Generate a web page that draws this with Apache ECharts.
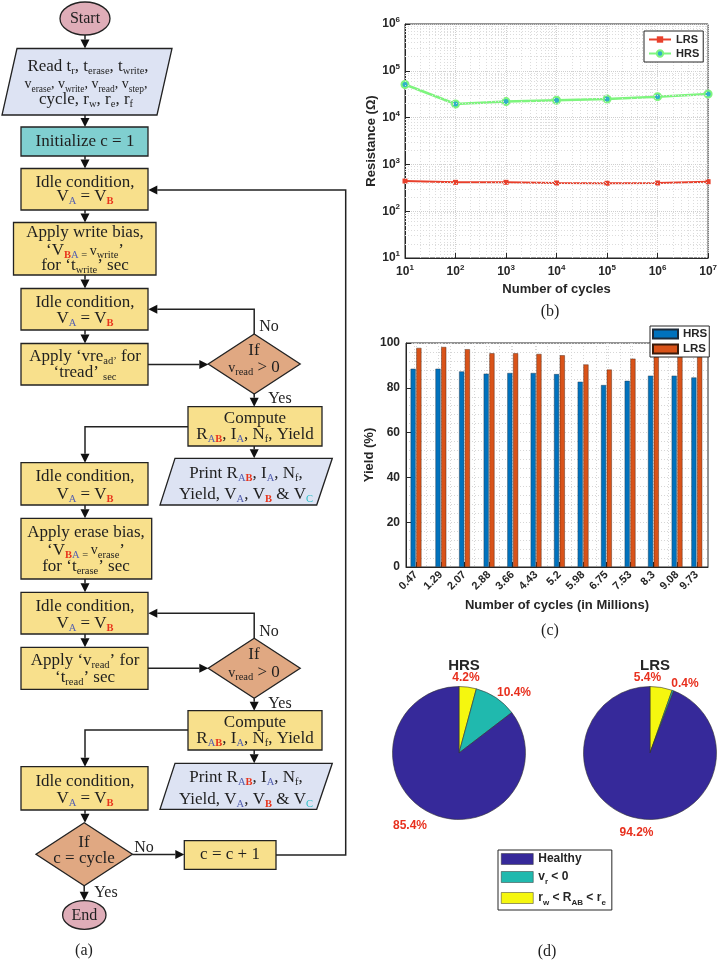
<!DOCTYPE html>
<html><head><meta charset="utf-8">
<script src="https://cdn.jsdelivr.net/npm/echarts@6/dist/echarts.min.js"></script>
<style>html,body{margin:0;padding:0;background:#fff}#c{width:720px;height:961px}</style>
</head><body><div id="c"></div>
<script>
// ---------- data ----------
const cycles = [10, 100, 1e3, 1e4, 1e5, 1e6, 1e7];
const lrsRes = [441, 414, 414, 400, 395, 400, 427];
const hrsRes = [51000, 19500, 22000, 23500, 25000, 28000, 32000];
const yieldCycles = [0.47, 1.29, 2.07, 2.88, 3.66, 4.43, 5.2, 5.98, 6.75, 7.53, 8.3, 9.08, 9.73];
const hrsYield = [88.5, 88.5, 87.3, 86.3, 86.6, 86.6, 86.1, 82.7, 81.2, 83.1, 85.4, 85.4, 84.6];
const lrsYield = [97.8, 98.2, 97.2, 95.4, 95.4, 95.1, 94.5, 90.4, 88.1, 93.0, 93.9, 94.0, 94.3];
const pieNames = ['rw<RAB<re', 'vr<0', 'Healthy'];
const hrsPie = [4.2, 10.4, 85.4];
const lrsPie = [5.4, 0.4, 94.2];

// label placement (style, not data)
const hrsLabelPos = [[466, 678], [514, 693], [410, 826]];
const lrsLabelPos = [[647.5, 678], [685, 684], [636.5, 833]];

// ---------- flowchart helpers ----------
const FF = '"Liberation Serif","Times New Roman",serif';
const SF = '"Liberation Sans",Arial,sans-serif';
const INK = '#1f1f1f';
const SUB = 10.5;
const rich = {
  n: {fontSize: 17, fontFamily: FF, fill: INK, lineHeight: 20},
  k: {fontSize: 16, fontFamily: FF, fill: INK, lineHeight: 20},
  m: {fontSize: 14, fontFamily: FF, fill: INK, lineHeight: 20},
  s: {fontSize: SUB, fontFamily: FF, fill: INK, verticalAlign: 'bottom', lineHeight: 14},
  t: {fontSize: 9.5, fontFamily: FF, fill: INK, verticalAlign: 'bottom', lineHeight: 14},
  a: {fontSize: SUB, fontFamily: FF, fill: '#5560b0', verticalAlign: 'bottom', lineHeight: 14},
  b: {fontSize: SUB, fontFamily: FF, fill: '#e8341c', fontWeight: 'bold', verticalAlign: 'bottom', lineHeight: 14},
  c: {fontSize: SUB, fontFamily: FF, fill: '#2cc0c8', verticalAlign: 'bottom', lineHeight: 14}
};
const els = [];
const SW = {stroke: '#222', lineWidth: 1.3};
function T(x, y, t) { els.push({type: 'text', x: x, y: y, z: 20, style: {text: t, rich: rich, align: 'center', verticalAlign: 'middle', font: '17px ' + FF, fill: INK}}); }
function R(x, y, w, h, fill) { els.push({type: 'rect', z: 5, shape: {x: x, y: y, width: w, height: h}, style: Object.assign({fill: fill}, SW)}); }
function P(pts, fill) { els.push({type: 'polygon', z: 5, shape: {points: pts}, style: Object.assign({fill: fill}, SW)}); }
function E(cx, cy, rx, ry, fill) { els.push({type: 'ellipse', z: 5, shape: {cx: cx, cy: cy, rx: rx, ry: ry}, style: Object.assign({fill: fill}, SW)}); }
function A(pts) {
  const p = pts.map(q => q.slice());
  const [x1, y1] = p[p.length - 2], [x2, y2] = p[p.length - 1];
  const L = Math.hypot(x2 - x1, y2 - y1), ux = (x2 - x1) / L, uy = (y2 - y1) / L;
  const h = 9, w = 4.5, bx = x2 - ux * h, by = y2 - uy * h;
  p[p.length - 1] = [bx, by];
  els.push({type: 'polyline', z: 4, shape: {points: p}, style: {stroke: '#222', lineWidth: 1.5, fill: null}});
  els.push({type: 'polygon', z: 4, shape: {points: [[x2, y2], [bx - uy * w, by + ux * w], [bx + uy * w, by - ux * w]]}, style: {fill: '#111'}});
}
const YEL = '#f8e08c', BLU = '#dde3f3', ORG = '#e0a882';
const idleTop = '{n|Idle condition,}', idleBot = '{n|V}{a|A}{n| = V}{b|B}';
function diamond(cx, cy, hw, hh) { P([[cx, cy - hh], [cx + hw, cy], [cx, cy + hh], [cx - hw, cy]], ORG); }

// Start
E(85, 18.5, 25, 16.5, '#dfadb8'); T(85, 19, '{k|Start}');
A([[85, 35], [85, 48.5]]);
P([[17, 48.5], [172, 48.5], [157, 115], [2, 115]], BLU);
T(88, 66.5, '{n|Read t}{s|r}{n|, t}{s|erase}{n|, t}{s|write}{n|,}');
T(86, 84, '{m|v}{t|erase}{m|, v}{t|write}{m|, v}{t|read}{m|, v}{t|step}{m|,}');
T(86, 99.5, '{n|cycle, r}{s|w}{n|, r}{s|e}{n|, r}{s|f}');
A([[85, 115], [85, 127]]);
R(21, 127, 127, 29, '#80cfd0'); T(85, 142, '{n|Initialize c = 1}');
A([[85, 156], [85, 168.5]]);
R(21, 168.5, 127, 41.5, YEL); T(85, 183, idleTop); T(85, 197, idleBot);
A([[85, 210], [85, 222.5]]);
R(13.5, 222.5, 142.5, 52.5, YEL);
T(85, 233, '{n|Apply write bias,}');
T(85, 251, '{n|‘V}{b|B}{a|A}{s| = }{m|v}{s|write}{n|’}');
T(85, 266, '{n|for ‘t}{s|write}{n|’ sec}');
A([[85, 275], [85, 288.5]]);
R(21, 288.5, 127, 41.5, YEL); T(85, 302.5, idleTop); T(85, 319, idleBot);
A([[85, 330], [85, 343.5]]);
R(21, 343.5, 127, 41.5, YEL);
T(85, 357, '{n|Apply ‘vre}{s|ad’}{n| for}');
T(85, 373, '{n|‘tread’ }{s|sec}');
A([[148, 364.5], [208.3, 364.5]]);
diamond(254.2, 364, 46, 30);
T(254, 351, '{n|If}'); T(254, 368, '{m|v}{s|read}{n| > 0}');
A([[254.2, 334], [254.2, 309.3], [148.3, 309.3]]);
T(269, 327, '{k|No}'); T(280, 399, '{k|Yes}');
A([[254.2, 394], [254.2, 406.7]]);
R(188, 406.7, 134, 39.3, YEL);
T(255, 419, '{n|Compute}');
T(255, 434.5, '{n|R}{a|A}{b|B}{n|, I}{a|A}{n|, N}{s|f}{n|, Yield}');
A([[188, 426.7], [85, 426.7], [85, 462.7]]);
A([[254.2, 446], [254.2, 458.3]]);
P([[175, 458.3], [332.3, 458.3], [316.7, 505], [160, 505]], BLU);
T(246, 473.5, '{n|Print R}{a|A}{b|B}{n|, I}{a|A}{n|, N}{s|f}{n|,}');
T(246, 495, '{n|Yield, V}{a|A}{n|, V}{b|B}{n| & V}{c|C}');
R(21, 462.7, 127, 42.3, YEL); T(85, 477, idleTop); T(85, 495, idleBot);
A([[85, 505], [85, 518.3]]);
R(21, 518.3, 130.7, 60.7, YEL);
T(86, 533, '{n|Apply erase bias,}');
T(86, 550.5, '{n|‘V}{b|B}{a|A}{s| = }{m|v}{s|erase}{n|’}');
T(86, 566.5, '{n|for ‘t}{s|erase}{n|’ sec}');
A([[85, 579], [85, 592.3]]);
R(21, 592.3, 127, 41.7, YEL); T(85, 607, idleTop); T(85, 623.5, idleBot);
A([[85, 634], [85, 647.3]]);
R(21, 647.3, 127, 42, YEL);
T(85, 661, '{n|Apply ‘v}{s|read}{n|’ for}');
T(85, 677.5, '{n|‘t}{s|read}{n|’ sec}');
A([[148, 668.3], [208.3, 668.3]]);
diamond(254.2, 668.3, 46, 30);
T(254, 655, '{n|If}'); T(254, 673, '{m|v}{s|read}{n| > 0}');
A([[254.2, 638.3], [254.2, 613.3], [148.3, 613.3]]);
T(269, 631.5, '{k|No}'); T(280, 703.5, '{k|Yes}');
A([[254.2, 698.3], [254.2, 710.7]]);
R(188, 710.7, 134, 39.3, YEL);
T(255, 723, '{n|Compute}');
T(255, 738.5, '{n|R}{a|A}{b|B}{n|, I}{a|A}{n|, N}{s|f}{n|, Yield}');
A([[188, 730], [85, 730], [85, 766.7]]);
A([[254.2, 750], [254.2, 763.3]]);
P([[175, 763.3], [332.3, 763.3], [316.7, 809.3], [160, 809.3]], BLU);
T(246, 777.5, '{n|Print R}{a|A}{b|B}{n|, I}{a|A}{n|, N}{s|f}{n|,}');
T(246, 800, '{n|Yield, V}{a|A}{n|, V}{b|B}{n| & V}{c|C}');
R(21, 766.7, 127, 43.3, YEL); T(85, 782, idleTop); T(85, 799, idleBot);
A([[85, 810], [85, 822.7]]);
diamond(84.2, 854.2, 48.2, 31.5);
T(84, 842.5, '{n|If}'); T(84, 858.5, '{n|c = cycle}');
A([[132.3, 854.5], [184.3, 854.5]]);
T(144, 847.5, '{k|No}');
R(184.3, 840.7, 91.7, 28.6, YEL); T(230, 855, '{n|c = c + 1}');
A([[276, 855], [345.7, 855], [345.7, 190], [148.3, 190]]);
T(106, 892.5, '{k|Yes}');
A([[84.2, 885.7], [84.2, 900.7]]);
E(84.3, 915, 21.7, 14.3, '#dfadb8'); T(84.3, 915.5, '{k|End}');
T(84, 951, '{k|(a)}');
T(550, 312, '{k|(b)}');
T(550, 631, '{k|(c)}');
T(547, 952, '{k|(d)}');

// ---------- charts ----------
const AX = '#262626';
const bold = {fontFamily: SF, fontWeight: 'bold', color: AX};
const supRich = {b: {fontFamily: SF, fontWeight: 'bold', fontSize: 12, color: AX}, sup: {fontFamily: SF, fontWeight: 'bold', fontSize: 8, color: AX, verticalAlign: 'top', lineHeight: 16}};
const colors = {healthy: '#36299a', neg: '#20b9ae', win: '#f5f70f'};
const pieColors = [colors.win, colors.neg, colors.healthy];
function pieData(vals) { return vals.map((v, i) => ({name: pieNames[i], value: v, itemStyle: {color: pieColors[i]}})); }
const legRich = {t: {fontFamily: SF, fontWeight: 'bold', fontSize: 12, color: AX}, sub: {fontFamily: SF, fontWeight: 'bold', fontSize: 8, color: AX, verticalAlign: 'bottom', lineHeight: 18}};
const legendNames = {'Healthy': '{t|Healthy}', 'vr<0': '{t|v}{sub|r}{t| < 0}', 'rw<RAB<re': '{t|r}{sub|w}{t| < R}{sub|AB}{t| < r}{sub|e}'};
const dotted = {color: '#d6d6d6', type: [1, 2], width: 1};

// log-decade minor gridlines (2..9 x each decade), placed through the axes' own scale
function logMinor(lo, hi) { const out = []; for (let d = lo; d < hi; d *= 10) for (let k = 2; k <= 9; k++) out.push(d * k); return out; }
const minorX = logMinor(10, 1e7).map(v => ({xAxis: v}));
const minorY = logMinor(10, 1e6).map(v => ({yAxis: v}));

function pieLabel(pos) {
  return p => ({x: pos[p.dataIndex][0], y: pos[p.dataIndex][1], align: 'center', verticalAlign: 'middle', hideOverlap: false, moveOverlap: null});
}
const pieLabelStyle = {show: true, position: 'outside', formatter: '{c}%', color: '#e8301e', fontFamily: SF, fontWeight: 'bold', fontSize: 12};

const option = {
  animation: false,
  backgroundColor: '#fff',
  textStyle: {fontFamily: SF},
  graphic: {elements: els},
  title: [
    {text: 'HRS', left: 459, top: 653, textAlign: 'center', textStyle: {fontFamily: SF, fontWeight: 'bold', fontSize: 15, color: AX}},
    {text: 'LRS', left: 650, top: 653, textAlign: 'center', textStyle: {fontFamily: SF, fontWeight: 'bold', fontSize: 15, color: AX}}
  ],
  grid: [
    {left: 405, top: 24, width: 304, height: 234, show: true, borderColor: AX, borderWidth: 1, backgroundColor: '#fff'},
    {left: 406, top: 343, width: 302, height: 224, show: true, borderColor: AX, borderWidth: 1, backgroundColor: '#fff'}
  ],
  legend: [
    {data: ['LRS', 'HRS'], left: 644, top: 31, z: 20, orient: 'vertical', padding: [3, 4, 3, 4], itemGap: 3, itemWidth: 22, itemHeight: 8,
     backgroundColor: '#fff', borderColor: AX, borderWidth: 1, textStyle: {fontFamily: SF, fontWeight: 'bold', fontSize: 11, color: AX}},
    {data: ['HRS yield', 'LRS yield'], left: 650, top: 326, z: 20, orient: 'vertical', padding: [2, 2, 2, 2], itemGap: 3, itemWidth: 25, itemHeight: 9,
     icon: 'rect', formatter: n => n.replace(' yield', ''),
     backgroundColor: '#fff', borderColor: AX, borderWidth: 1, textStyle: {fontFamily: SF, fontWeight: 'bold', fontSize: 11.5, color: AX}},
    {data: ['Healthy', 'vr<0', 'rw<RAB<re'], left: 498, top: 850, z: 20, orient: 'vertical', padding: [3, 6, 3, 3], itemGap: 6, itemWidth: 32, itemHeight: 11,
     icon: 'rect', formatter: n => legendNames[n], backgroundColor: '#fff', borderColor: AX, borderWidth: 1,
     itemStyle: {borderColor: '#333', borderWidth: 0.5},
     textStyle: {rich: legRich, fontFamily: SF, fontWeight: 'bold', fontSize: 12, color: AX}}
  ],
  xAxis: [
    {gridIndex: 0, type: 'log', logBase: 10, min: 10, max: 1e7,
     name: 'Number of cycles', nameLocation: 'middle', nameGap: 25, nameTextStyle: Object.assign({fontSize: 13}, bold),
     axisLine: {lineStyle: {color: AX}}, axisTick: {inside: true, lineStyle: {color: AX}},
     splitLine: {show: true, lineStyle: {color: '#cfcfcf', type: [1, 1]}},
     axisLabel: {margin: 6, formatter: v => '{b|10}{sup|' + Math.round(Math.log10(v)) + '}', rich: supRich}},
    {gridIndex: 1, type: 'value', min: 0.14, max: 10.1,
     name: 'Number of cycles (in Millions)', nameLocation: 'middle', nameGap: 32, nameTextStyle: Object.assign({fontSize: 13}, bold),
     axisLine: {lineStyle: {color: AX}},
     axisTick: {inside: true, customValues: yieldCycles, lineStyle: {color: AX}},
     splitLine: {show: true, lineStyle: dotted},
     minorTick: {show: false}, minorSplitLine: {show: true, lineStyle: dotted},
     axisLabel: Object.assign({customValues: yieldCycles, rotate: 45, fontSize: 11, margin: 6, formatter: v => String(v)}, bold)}
  ],
  yAxis: [
    {gridIndex: 0, type: 'log', logBase: 10, min: 10, max: 1e6,
     name: 'Resistance (Ω)', nameLocation: 'middle', nameGap: 26, nameTextStyle: Object.assign({fontSize: 13}, bold),
     axisLine: {lineStyle: {color: AX}}, axisTick: {inside: true, lineStyle: {color: AX}},
     splitLine: {show: true, lineStyle: {color: '#cfcfcf', type: [1, 1]}},
     axisLabel: {margin: 5, formatter: v => '{b|10}{sup|' + Math.round(Math.log10(v)) + '}', rich: supRich}},
    {gridIndex: 1, type: 'value', min: 0, max: 100, interval: 20,
     name: 'Yield (%)', nameLocation: 'middle', nameGap: 25, nameTextStyle: Object.assign({fontSize: 13}, bold),
     axisLine: {lineStyle: {color: AX}}, axisTick: {inside: true, lineStyle: {color: AX}},
     splitLine: {show: true, lineStyle: dotted},
     minorTick: {show: false, splitNumber: 5}, minorSplitLine: {show: true, lineStyle: dotted},
     axisLabel: Object.assign({fontSize: 12, margin: 6}, bold)}
  ],
  series: [
    {name: 'grid-minor', type: 'line', xAxisIndex: 0, yAxisIndex: 0, data: [], z: 1, silent: true,
     markLine: {silent: true, symbol: 'none', label: {show: false}, animation: false,
                lineStyle: {color: '#dcdcdc', type: [1, 2], width: 1}, emphasis: {disabled: true},
                data: minorX.concat(minorY)}},
    {name: 'LRS', type: 'line', xAxisIndex: 0, yAxisIndex: 0, data: cycles.map((c, i) => [c, lrsRes[i]]), z: 3,
     symbol: 'rect', symbolSize: 5, lineStyle: {color: '#e8402c', width: 2}, itemStyle: {color: '#e8402c'}},
    {name: 'HRS', type: 'line', xAxisIndex: 0, yAxisIndex: 0, data: cycles.map((c, i) => [c, hrsRes[i]]), z: 3,
     symbol: 'circle', symbolSize: 7, lineStyle: {color: '#7ef57e', width: 2.5}, itemStyle: {color: '#2fb0c8', borderColor: '#7ef57e', borderWidth: 2}},
    {name: 'HRS yield', type: 'bar', xAxisIndex: 1, yAxisIndex: 1, data: yieldCycles.map((c, i) => [c, hrsYield[i]]),
     barWidth: 5, barGap: '15%', itemStyle: {color: '#0072BD', borderColor: '#1b2a3a', borderWidth: 0.4}},
    {name: 'LRS yield', type: 'bar', xAxisIndex: 1, yAxisIndex: 1, data: yieldCycles.map((c, i) => [c, lrsYield[i]]),
     barWidth: 5, barGap: '15%', itemStyle: {color: '#D95319', borderColor: '#3a1a0a', borderWidth: 0.4}},
    {name: 'HRS pie', type: 'pie', center: [459, 753], radius: 66.5, startAngle: 90, clockwise: true, avoidLabelOverlap: false,
     data: pieData(hrsPie), itemStyle: {borderColor: '#333', borderWidth: 0.6},
     label: pieLabelStyle, labelLine: {show: false, length: 7, length2: 0}, labelLayout: pieLabel(hrsLabelPos)},
    {name: 'LRS pie', type: 'pie', center: [650, 753], radius: 66.5, startAngle: 90, clockwise: true, avoidLabelOverlap: false,
     data: pieData(lrsPie), itemStyle: {borderColor: '#333', borderWidth: 0.6},
     label: pieLabelStyle, labelLine: {show: false, length: 7, length2: 0}, labelLayout: pieLabel(lrsLabelPos)}
  ]
};
const chart = echarts.init(document.getElementById('c'), null, {renderer: 'canvas'});
chart.setOption(option);
</script></body></html>
